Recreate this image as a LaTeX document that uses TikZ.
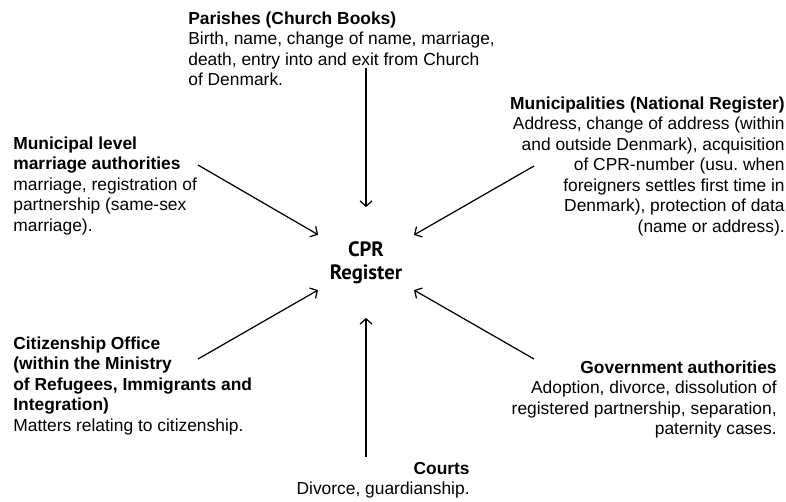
\documentclass[tikz,border=0pt]{standalone}
\usepackage{fontspec}
\setmainfont{Liberation Sans}
\newfontfamily\cprfont{PT Sans}
\usetikzlibrary{arrows.meta, positioning}

\begin{document}
\begin{tikzpicture}[x=0.02cm, y=-0.02cm, >={Straight Barb[length=1.1mm, width=2.4mm]},
                    source/.style={inner sep=0pt, font=\fontsize{9.9pt}{11.67pt}\selectfont},
                    feed/.style={->, line width=0.7pt}]
    \useasboundingbox (0,0) rectangle (786,501);

    % Register in the middle
    \node[circle, minimum size=2.2cm, inner sep=0pt, align=center,
          font=\cprfont\bfseries\fontsize{11.8pt}{13.2pt}\selectfont] (cpr) at (366, 262.5) {CPR\\Register};

    % Sources
    \node[source, anchor=north west, align=left] (parishes) at (188, 11.5)
        {\textbf{Parishes (Church Books)}\\Birth, name, change of name, marriage,\\death, entry into and exit from Church\\of Denmark.};
    \node[source, anchor=north east, align=right] (natreg) at (785, 96.5)
        {\textbf{Municipalities (National Register)}\\Address, change of address (within\\and outside Denmark), acquisition\\of CPR-number (usu.\ when\\foreigners settles first time in\\Denmark), protection of data\\(name or address).};
    \node[source, anchor=north west, align=left] (marauth) at (13, 136.5)
        {\textbf{Municipal level}\\\textbf{marriage authorities}\\marriage, registration of\\partnership (same-sex\\marriage).};
    \node[source, anchor=north west, align=left] (citizen) at (13, 336.5)
        {\textbf{Citizenship Office}\\\textbf{(within the Ministry}\\\textbf{of Refugees, Immigrants and}\\\textbf{Integration)}\\Matters relating to citizenship.};
    \node[source, anchor=north east, align=right] (govauth) at (777, 360.5)
        {\textbf{Government authorities}\\Adoption, divorce, dissolution of\\registered partnership, separation,\\paternity cases.};
    \node[source, anchor=north east, align=right] (courts) at (470, 461.5)
        {\textbf{Courts}\\Divorce, guardianship.};

    \coordinate (fromparishes) at (366, 68);
    \coordinate (fromnatreg) at (534, 166);
    \coordinate (frommarauth) at (198, 165);
    \coordinate (fromcitizen) at (198, 359);
    \coordinate (fromgovauth) at (534, 359);
    \coordinate (fromcourts) at (366, 457);

    % Arrows into the register
    \draw[feed] (fromparishes) -- (cpr);
    \draw[feed] (fromnatreg) -- (cpr);
    \draw[feed] (frommarauth) -- (cpr);
    \draw[feed] (fromcitizen) -- (cpr);
    \draw[feed] (fromgovauth) -- (cpr);
    \draw[feed] (fromcourts) -- (cpr);

\end{tikzpicture}
\end{document}
